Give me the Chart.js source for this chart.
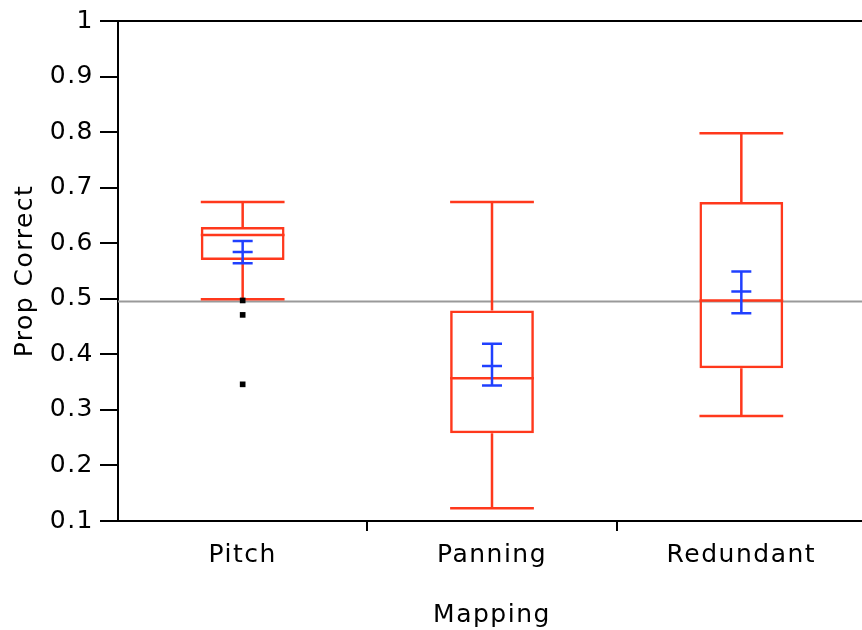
<!DOCTYPE html>
<html>
<head>
<meta charset="utf-8">
<script src="https://cdn.jsdelivr.net/npm/chart.js@4/dist/chart.umd.min.js"></script>
<style>
  html, body { margin: 0; padding: 0; background: #fff; overflow: hidden; }
  #wrap { width: 870px; height: 630px; }
</style>
</head>
<body>
<div id="wrap"><canvas id="chart" width="870" height="630"></canvas></div>
<script>
// box plot summary per mapping
const categories = ['Pitch', 'Panning', 'Redundant'];
const whiskerLow = [0.499, 0.123, 0.289];
const quartile1 = [0.570, 0.258, 0.375];
const medians = [0.615, 0.357, 0.497];
const quartile3 = [0.629, 0.479, 0.674];
const whiskerHigh = [0.674, 0.674, 0.798];
const meanValues = [0.584, 0.379, 0.513];
const meanLow = [0.564, 0.344, 0.474];
const meanHigh = [0.604, 0.419, 0.549];
const outlierCategories = ['Pitch', 'Pitch', 'Pitch'];
const outlierValues = [0.497, 0.471, 0.346];
const referenceValue = 0.495;
const yTicks = [0.1, 0.2, 0.3, 0.4, 0.5, 0.6, 0.7, 0.8, 0.9, 1];

const RED = 'rgb(255, 56, 28)';
const BLUE = 'rgb(32, 64, 255)';
const FONT = { family: '"DejaVu Sans", sans-serif', size: 25 };

// the original font is a wide, spaced-out bitmap face
const spacing = {
    id: 'spacing',
    beforeUpdate(chart) { chart.ctx.letterSpacing = '1.5px'; },
    beforeDraw(chart) { chart.ctx.letterSpacing = '1.5px'; }
};

const boxPlotExtras = {
    id: 'boxPlotExtras',
    beforeDatasetsDraw(chart) {
        const { ctx, chartArea, scales } = chart;
        const y = scales.y.getPixelForValue(referenceValue);
        ctx.save();
        ctx.strokeStyle = '#9a9a9a';
        ctx.lineWidth = 2;
        ctx.beginPath();
        ctx.moveTo(chartArea.left, y);
        ctx.lineTo(chartArea.right, y);
        ctx.stroke();
        ctx.restore();
    },
    // draw right after the boxes so the outlier dots land on top
    afterDatasetDraw(chart, args) {
        if (args.index !== 0) return;
        const { ctx, scales } = chart;
        const yScale = scales.y;
        const boxes = chart.getDatasetMeta(0).data;
        ctx.save();
        ctx.lineWidth = 2.5;
        boxes.forEach((bar, i) => {
            const x = bar.x;
            const half = bar.width / 2;
            const hline = (v, w) => {
                const py = yScale.getPixelForValue(v);
                ctx.moveTo(x - w, py);
                ctx.lineTo(x + w, py);
            };
            const vline = (a, b) => {
                ctx.moveTo(x, yScale.getPixelForValue(a));
                ctx.lineTo(x, yScale.getPixelForValue(b));
            };
            // whiskers + median
            ctx.strokeStyle = RED;
            ctx.beginPath();
            vline(quartile3[i], whiskerHigh[i]);
            vline(quartile1[i], whiskerLow[i]);
            hline(whiskerHigh[i], half);
            hline(whiskerLow[i], half);
            hline(medians[i], half);
            ctx.stroke();
            // mean with error bar
            ctx.strokeStyle = BLUE;
            ctx.beginPath();
            vline(meanLow[i], meanHigh[i]);
            hline(meanLow[i], 10);
            hline(meanHigh[i], 10);
            hline(meanValues[i], 10);
            ctx.stroke();
        });
        ctx.restore();
    }
};

const ctx = document.getElementById('chart').getContext('2d');
new Chart(ctx, {
    type: 'bar',
    data: {
        labels: categories,
        datasets: [{
            type: 'bar',
            data: categories.map((c, i) => [quartile1[i], quartile3[i]]),
            backgroundColor: 'rgba(0,0,0,0)',
            borderColor: RED,
            borderWidth: 2.5,
            borderSkipped: false,
            barPercentage: 0.336,
            categoryPercentage: 1,
            order: 1
        }, {
            type: 'scatter',
            data: outlierValues.map((v, i) => ({ x: outlierCategories[i], y: v })),
            backgroundColor: '#000',
            borderColor: '#000',
            pointStyle: 'rect',
            pointRadius: 4,
            borderWidth: 0,
            order: 0
        }]
    },
    options: {
        responsive: false,
        animation: false,
        layout: { padding: { top: 20, right: 1, bottom: 0, left: 0 } },
        plugins: {
            legend: { display: false },
            tooltip: { enabled: false }
        },
        scales: {
            x: {
                type: 'category',
                offset: true,
                afterFit: (scale) => { scale.height = 109; },
                border: { color: '#000', width: 2 },
                grid: {
                    offset: true,
                    drawOnChartArea: false,
                    tickLength: 10,
                    lineWidth: 2,
                    tickColor: (c) => c.index === 0 ? 'rgba(0,0,0,0)' : '#000'
                },
                ticks: { color: '#000', font: FONT, padding: 9, maxRotation: 0 },
                title: { display: true, text: 'Mapping', color: '#000', font: FONT, padding: { top: 1, bottom: 0 } }
            },
            y: {
                min: 0.1,
                max: 1,
                afterFit: (scale) => { scale.width = 118; },
                afterBuildTicks: (scale) => { scale.ticks = yTicks.map(v => ({ value: v })); },
                border: { color: '#000', width: 2 },
                grid: {
                    lineWidth: 2,
                    tickLength: 18,
                    tickColor: '#000',
                    color: (c) => c.tick && c.tick.value === 1 ? '#000' : 'rgba(0,0,0,0)'
                },
                ticks: {
                    color: '#000',
                    font: FONT,
                    padding: 6,
                    callback: (v) => String(Number(v.toFixed(1)))
                },
                title: { display: true, text: 'Prop Correct', color: '#000', font: FONT, padding: { top: 10, bottom: 0 } }
            }
        }
    },
    plugins: [spacing, boxPlotExtras]
});
</script>
</body>
</html>
